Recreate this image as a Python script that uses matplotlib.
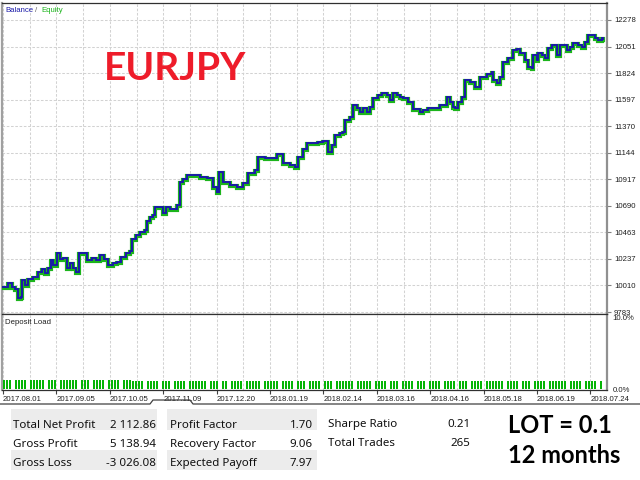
import matplotlib
matplotlib.use("Agg")
import matplotlib.pyplot as plt
import matplotlib.transforms as mtransforms
from matplotlib.patches import Rectangle
import numpy as np

# balance curve: position along the test (bars) and balance
bar = [0, 5, 9, 12, 15, 18, 19, 22, 25, 30, 35, 39, 42, 45, 48, 50, 54, 57, 60, 64,
       67, 70, 73, 76, 80, 84, 89, 93, 97, 101, 105, 110, 114, 118, 123, 127, 129, 133,
       137, 142, 144, 147, 150, 152, 157, 160, 163, 167, 174, 177, 180, 184, 190, 197,
       204, 210, 214, 216, 220, 227, 234, 240, 245, 252, 255, 262, 270, 274, 280, 287,
       292, 295, 300, 304, 310, 315, 320, 325, 329, 332, 337, 340, 342, 347, 350, 354,
       357, 360, 364, 367, 370, 375, 379, 384, 387, 390, 394, 397, 400, 405, 410, 417,
       420, 425, 430, 437, 444, 447, 450, 452, 455, 459, 462, 467, 472, 477, 484, 489,
       490, 494, 497, 500, 505, 510, 514, 517, 522, 525, 529, 530, 534, 535, 539, 542,
       545, 549, 554, 557, 564, 567, 570, 575, 579, 582, 585, 589, 592, 595, 599, 600]
balance = [10000, 10034, 9999, 9982, 9906, 9914, 10059, 10017, 10068, 10085, 10127, 10153,
           10119, 10162, 10230, 10187, 10290, 10238, 10247, 10162, 10204, 10162, 10127,
           10290, 10290, 10230, 10247, 10230, 10273, 10238, 10187, 10204, 10213, 10255,
           10290, 10307, 10409, 10443, 10469, 10486, 10563, 10597, 10614, 10682, 10682,
           10631, 10682, 10665, 10699, 10895, 10921, 10955, 10955, 10938, 10930, 10853,
           10810, 10981, 10895, 10870, 10853, 10887, 10972, 10998, 11109, 11100, 11100,
           11134, 11058, 11041, 11023, 11109, 11177, 11228, 11228, 11237, 11245, 11152,
           11211, 11297, 11314, 11322, 11425, 11450, 11553, 11527, 11493, 11527, 11493,
           11536, 11612, 11638, 11655, 11638, 11595, 11655, 11638, 11621, 11612, 11578,
           11518, 11493, 11510, 11527, 11527, 11553, 11621, 11578, 11536, 11527, 11578,
           11621, 11766, 11749, 11706, 11792, 11817, 11834, 11766, 11740, 11792, 11920,
           11954, 12022, 12031, 11996, 11937, 11877, 11868, 11979, 11937, 11996, 11979,
           11954, 12039, 12065, 11979, 12065, 12022, 12048, 12082, 12065, 12048, 12090,
           12150, 12150, 12124, 12107, 12124, 12113]

y_ticks = [12278, 12051, 11824, 11597, 11370, 11144, 10917, 10690, 10463, 10237, 10010, 9783]
date_labels = ["2017.08.01", "2017.09.05", "2017.10.05", "2017.11.09", "2017.12.20",
               "2018.01.19", "2018.02.14", "2018.03.16", "2018.04.16", "2018.05.18",
               "2018.06.19", "2018.07.24"]

# deposit load: one char per 3-bar slot, 1 = position open
load_early = "1110111101" "1111011101" "1111101110" "1111011110" "111"
load_late = ("1111011110" "1110111101" "1111101110" "1101111011" "1110111110"
             "1111011101" "1110111011" "1111011111" "0111101110" "1111011101"
             "1110111101" "1101111011" "1111011110" "1110111101" "1111101111" "0111101")
load_early_pct = 1.25
load_late_pct = 1.1

stats_left = [("Total Net Profit", "2 112.86"), ("Gross Profit", "5 138.94"), ("Gross Loss", "-3 026.08")]
stats_mid = [("Profit Factor", "1.70"), ("Recovery Factor", "9.06"), ("Expected Payoff", "7.97")]
stats_right = [("Sharpe Ratio", "0.21"), ("Total Trades", "265")]

W, H = 640, 480
fig = plt.figure(figsize=(6.4, 4.8), dpi=100)
fig.patch.set_facecolor("white")

def fx(px):
    return px / W

def fy(py):
    return 1 - py / H

grid_step = 26.7
xmin, xmax = -1, 604
ax = fig.add_axes([fx(2), fy(314), fx(607) - fx(2), fy(3) - fy(314)])
ax_dep = fig.add_axes([fx(2), fy(390), fx(607) - fx(2), fy(314) - fy(390)])

grid_kw = dict(color="#d2d2d2", linewidth=0.75, linestyle=(0, (2.5, 1.6)))

# main balance / equity chart
shift = mtransforms.offset_copy(ax.transData, fig=fig, x=0, y=-1.0, units="dots")
ax.plot(bar, balance, drawstyle="steps-post", color="#1cb41c", linewidth=3.0,
        transform=shift, solid_joinstyle="miter", zorder=3)
ax.plot(bar, balance, drawstyle="steps-post", color="#1a1aa8", linewidth=1.4,
        solid_joinstyle="miter", zorder=4)
ax.set_xlim(xmin, xmax)
ax.set_ylim(9766, 12423)
ax.set_yticks(y_ticks)
ax.set_xticks(np.arange(0, xmax, grid_step))
ax.grid(True, **grid_kw)
ax.set_axisbelow(True)
ax.yaxis.tick_right()
ax.tick_params(axis="y", labelsize=5.6, length=3, width=0.8, color="#808080",
               labelcolor="#202020", pad=2)
ax.tick_params(axis="x", length=0, labelbottom=False)
for lab in ax.get_yticklabels():
    lab.set_fontfamily("Liberation Sans")

# deposit load panel
slot_x = np.arange(len(load_early + load_late)) * 3 + 1
heights = np.array([load_early_pct if c == "1" else 0 for c in load_early] +
                   [load_late_pct if c == "1" else 0 for c in load_late])
on = heights > 0
ax_dep.vlines(slot_x[on], 0, heights[on], colors="#06b406", linewidth=1.44,
              antialiased=False, zorder=3)
ax_dep.set_xlim(xmin, xmax)
ax_dep.set_ylim(-0.14, 10.56)
ax_dep.set_yticks([10, 0], labels=["10.0%", "0.0%"])
ax_dep.yaxis.tick_right()
ax_dep.tick_params(axis="y", labelsize=5.6, length=0, labelcolor="#202020", pad=4)
ax_dep.set_xticks(np.arange(0, xmax, grid_step), minor=True)
ax_dep.set_xticks(np.arange(len(date_labels)) * grid_step * 2, labels=date_labels)
ax_dep.tick_params(axis="x", which="major", labelsize=5.6, length=3, width=0.8,
                   color="#404040", labelcolor="#202020", pad=1)
ax_dep.tick_params(axis="x", which="minor", length=0)
for lab in ax_dep.get_xticklabels():
    lab.set_horizontalalignment("left")
for lab in ax_dep.get_xticklabels() + ax_dep.get_yticklabels():
    lab.set_fontfamily("Liberation Sans")
ax_dep.grid(True, axis="x", which="both", **grid_kw)
ax_dep.grid(False, axis="y")
ax_dep.set_axisbelow(True)

for a in (ax, ax_dep):
    a.set_facecolor("white")
    a.spines["left"].set_color("#a0a0a0")
    a.spines["left"].set_linewidth(1.6)
    a.spines["right"].set_color("#909090")
    a.spines["right"].set_linewidth(1.6)
    a.spines["top"].set_color("#303030")
    a.spines["top"].set_linewidth(0.9)
    a.spines["bottom"].set_color("#303030")
    a.spines["bottom"].set_linewidth(0.9)

# overlay in pixel coordinates for texts and the stats table
ov = fig.add_axes([0, 0, 1, 1], zorder=10)
ov.set_xlim(0, W)
ov.set_ylim(H, 0)
ov.axis("off")
ov.patch.set_alpha(0)

small = dict(fontsize=5.6, family="Liberation Sans", va="center")
ov.text(5, 10, "Balance", color="#1a1aa8", **small)
ov.text(35, 10, "/", color="#606060", **small)
ov.text(41, 10, "Equity", color="#1cb41c", **small)
ov.text(5, 322, "Deposit Load", color="#202020", **small)

ov.text(104, 80, "EURJPY", color="#ee1c2a", fontsize=28, fontweight="bold",
        family="Lato", va="baseline", ha="left")

ov.plot([0, 150, 153, 190, 193, 640], [404, 404, 400, 400, 404, 404],
        color="#404040", linewidth=0.9)

row_base = [428, 447, 466]
row_boxes = [(409, 430), (430, 450), (450, 470)]
stat_font = dict(fontsize=8.3, family="Noto Sans", va="baseline", color="#101010")

def draw_table(rows, x0, x1, label_x, value_x, shaded=True):
    for i, (name, val) in enumerate(rows):
        if shaded and i % 2 == 0:
            top, bot = row_boxes[i]
            ov.add_patch(Rectangle((x0, top), x1 - x0, bot - top, facecolor="#ececec",
                                   edgecolor="none", zorder=1))
        ov.text(label_x, row_base[i], name, ha="left", zorder=2, **stat_font)
        ov.text(value_x, row_base[i], val, ha="right", zorder=2, **stat_font)

draw_table(stats_left, 11, 157, 13, 156)
draw_table(stats_mid, 167, 317, 170, 313)
for i, (name, val) in enumerate(stats_right):
    ov.text(328, row_base[i] - 1, name, ha="left", **stat_font)
    ov.text(470, row_base[i] - 1, val, ha="right", **stat_font)

big = dict(fontsize=17, fontweight="bold", family="Lato", color="black", va="baseline", ha="left")
ov.text(508, 433, "LOT = 0.1", **big)
ov.text(508, 463, "12 months", **big)

fig.savefig("out.png", dpi=100)
